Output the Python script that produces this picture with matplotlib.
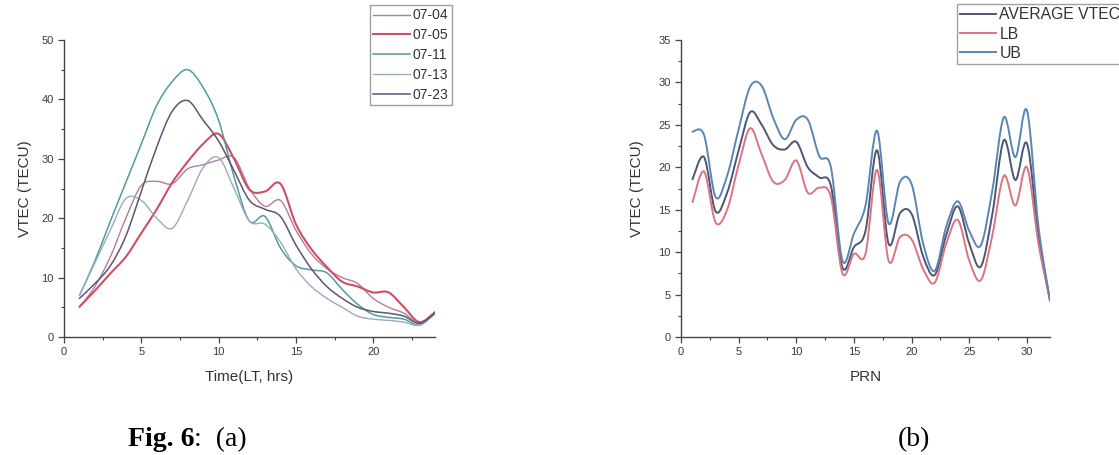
import numpy as np
import matplotlib
matplotlib.use("Agg")
import matplotlib.pyplot as plt
from matplotlib.path import Path
from matplotlib.patches import PathPatch
from matplotlib.lines import Line2D
from matplotlib.ticker import MultipleLocator

# ---- data (a): VTEC by local time for five days ----
hours = list(range(1, 25))
vtec_0704 = [5.0, 8.5, 13.5, 20.0, 25.5, 26.2, 25.8, 28.3, 29.0, 29.8, 30.2, 25.0,
             22.0, 23.0, 18.0, 14.0, 11.5, 10.0, 9.0, 6.5, 5.0, 4.0, 2.3, 4.0]
vtec_0705 = [5.1, 7.8, 10.7, 13.5, 17.5, 21.5, 26.0, 29.5, 32.5, 34.2, 30.0, 24.8,
             24.5, 25.8, 19.0, 14.8, 11.8, 9.3, 8.5, 7.5, 7.5, 5.0, 2.5, 4.2]
vtec_0711 = [7.0, 12.8, 19.5, 26.0, 32.5, 39.0, 43.0, 45.0, 42.0, 36.5, 27.0, 19.5,
             20.3, 15.0, 12.0, 11.3, 10.8, 8.0, 5.5, 3.8, 3.3, 3.0, 2.0, 4.0]
vtec_0713 = [7.0, 12.5, 18.0, 23.3, 23.0, 20.0, 18.3, 23.0, 28.5, 30.2, 25.0, 19.5,
             19.0, 16.0, 11.5, 8.5, 6.5, 5.0, 3.5, 3.0, 2.8, 2.5, 2.0, 4.0]
vtec_0723 = [6.5, 9.0, 12.0, 17.0, 24.5, 32.0, 38.0, 39.8, 36.5, 33.0, 28.0, 23.0,
             21.5, 20.3, 15.5, 11.5, 8.5, 6.5, 5.0, 4.3, 4.0, 3.5, 2.3, 4.0]
day_labels = ["07-04", "07-05", "07-11", "07-13", "07-23"]

# ---- data (b): VTEC per PRN ----
prn = list(range(1, 33))
avg_vtec = [18.6, 21.2, 14.8, 17.0, 22.0, 26.5, 25.0, 22.6, 22.1, 23.0, 20.0, 18.8,
            17.8, 8.2, 10.6, 12.5, 22.0, 11.0, 14.6, 14.5, 9.5, 7.3, 12.0, 15.4,
            11.0, 8.3, 14.5, 23.2, 18.5, 22.8, 12.0, 4.3]
lb = [15.9, 19.5, 13.5, 15.0, 20.3, 24.6, 21.5, 18.3, 18.5, 20.8, 17.0, 17.6,
      16.5, 7.5, 9.8, 9.8, 19.7, 9.0, 11.8, 11.5, 8.0, 6.4, 11.0, 13.8,
      9.0, 6.7, 12.0, 19.0, 15.5, 20.0, 11.0, 4.3]
ub = [24.2, 23.8, 16.5, 19.0, 24.5, 29.5, 29.6, 25.8, 23.3, 25.6, 25.6, 21.3,
      20.0, 9.0, 12.2, 15.5, 24.3, 13.4, 18.3, 18.0, 11.0, 7.8, 13.0, 16.0,
      12.5, 10.8, 17.3, 25.9, 21.2, 26.7, 13.0, 4.3]
bound_labels = ["AVERAGE VTEC", "LB", "UB"]

W, H = 1119, 455
fig = plt.figure(figsize=(W / 100, H / 100), dpi=100)
plt.rcParams["font.family"] = ["Liberation Sans", "DejaVu Sans"]

ax_a = fig.add_axes([64 / W, 1 - 337 / H, 371 / W, 297 / H])
ax_b = fig.add_axes([681 / W, 1 - 337 / H, 369 / W, 297 / H])


def smooth_line(ax, x, y, color, lw):
    # spline-like connection (Catmull-Rom drawn as cubic Bezier)
    pts = np.column_stack([x, y]).astype(float)
    verts = [pts[0]]
    codes = [Path.MOVETO]
    n = len(pts)
    for i in range(n - 1):
        p0 = pts[i - 1] if i > 0 else pts[i]
        p1, p2 = pts[i], pts[i + 1]
        p3 = pts[i + 2] if i + 2 < n else pts[i + 1]
        verts += [p1 + (p2 - p0) / 6, p2 - (p3 - p1) / 6, p2]
        codes += [Path.CURVE4] * 3
    ax.add_patch(PathPatch(Path(verts, codes), fill=False, edgecolor=color,
                           lw=lw, capstyle="round", joinstyle="round"))
    return Line2D([], [], color=color, lw=lw)


def style_axes(ax):
    for s in ["top", "right"]:
        ax.spines[s].set_visible(False)
    for s in ["left", "bottom"]:
        ax.spines[s].set_color("#444444")
        ax.spines[s].set_linewidth(1.0)
    ax.tick_params(which="major", direction="out", length=4, width=0.9,
                   colors="#444444", labelsize=8, labelcolor="#3a3a3a")
    ax.tick_params(which="minor", direction="out", length=2, width=0.8,
                   colors="#444444")


# ---- panel (a) ----
day_series = [vtec_0704, vtec_0705, vtec_0711, vtec_0713, vtec_0723]
day_colors = ["#b27f95", "#cf4f62", "#4f9c9c", "#9aaabf", "#5d5478"]
day_widths = [1.0, 1.5, 1.1, 1.0, 1.1]
handles_a = []
for vals, c, lw in zip(day_series, day_colors, day_widths):
    handles_a.append(smooth_line(ax_a, hours, vals, c, lw))
ax_a.set_xlim(0, 24)
ax_a.set_ylim(0, 50)
ax_a.xaxis.set_major_locator(MultipleLocator(5))
ax_a.xaxis.set_minor_locator(MultipleLocator(2.5))
ax_a.yaxis.set_major_locator(MultipleLocator(10))
ax_a.yaxis.set_minor_locator(MultipleLocator(5))
style_axes(ax_a)
ax_a.set_xlabel("Time(LT, hrs)", fontsize=11, color="#333333")
ax_a.set_ylabel("VTEC (TECU)", fontsize=11, color="#333333")
ax_a.xaxis.set_label_coords(0.5, -0.11)
ax_a.yaxis.set_label_coords(-0.085, 0.5)

fig.legend(handles_a, day_labels, loc="upper left",
           bbox_to_anchor=(370 / W, 1 - 5 / H), fontsize=10,
           frameon=True, fancybox=False, edgecolor="#888888",
           handlelength=2.6, handletextpad=0.2, labelspacing=0.42,
           borderpad=0.25, borderaxespad=0, labelcolor="#333333")

# ---- panel (b) ----
bound_series = [avg_vtec, lb, ub]
bound_colors = ["#4d5672", "#dc7380", "#5a86b4"]
handles_b = []
for vals, c in zip(bound_series, bound_colors):
    handles_b.append(smooth_line(ax_b, prn, vals, c, 1.4))
ax_b.set_xlim(0, 32)
ax_b.set_ylim(0, 35)
ax_b.xaxis.set_major_locator(MultipleLocator(5))
ax_b.xaxis.set_minor_locator(MultipleLocator(2.5))
ax_b.yaxis.set_major_locator(MultipleLocator(5))
ax_b.yaxis.set_minor_locator(MultipleLocator(2.5))
style_axes(ax_b)
ax_b.set_xlabel("PRN", fontsize=11, color="#333333")
ax_b.set_ylabel("VTEC (TECU)", fontsize=11, color="#333333")
ax_b.xaxis.set_label_coords(0.5, -0.11)
ax_b.yaxis.set_label_coords(-0.10, 0.5)

# legend box runs past the right edge in the original
fig.legend(handles_b, bound_labels, loc="upper left",
           bbox_to_anchor=(957 / W, 1 - 4 / H), fontsize=11.3,
           frameon=True, fancybox=False, edgecolor="#888888",
           handlelength=2.3, handletextpad=0.2, labelspacing=0.28,
           borderpad=0.2, borderaxespad=0, labelcolor="#333333")

# ---- captions ----
cap = fig.text(128 / W, 1 - 446 / H, "Fig. 6", fontsize=20, fontweight="bold",
               family="Liberation Serif", va="baseline", ha="left")
ax_a.annotate(":  (a)", xy=(1, 0), xycoords=cap, fontsize=20,
              family="Liberation Serif", va="bottom", ha="left",
              annotation_clip=False)
fig.text(898 / W, 1 - 446 / H, "(b)", fontsize=20, family="Liberation Serif",
         va="baseline", ha="left")

fig.savefig("out.png", dpi=100)
